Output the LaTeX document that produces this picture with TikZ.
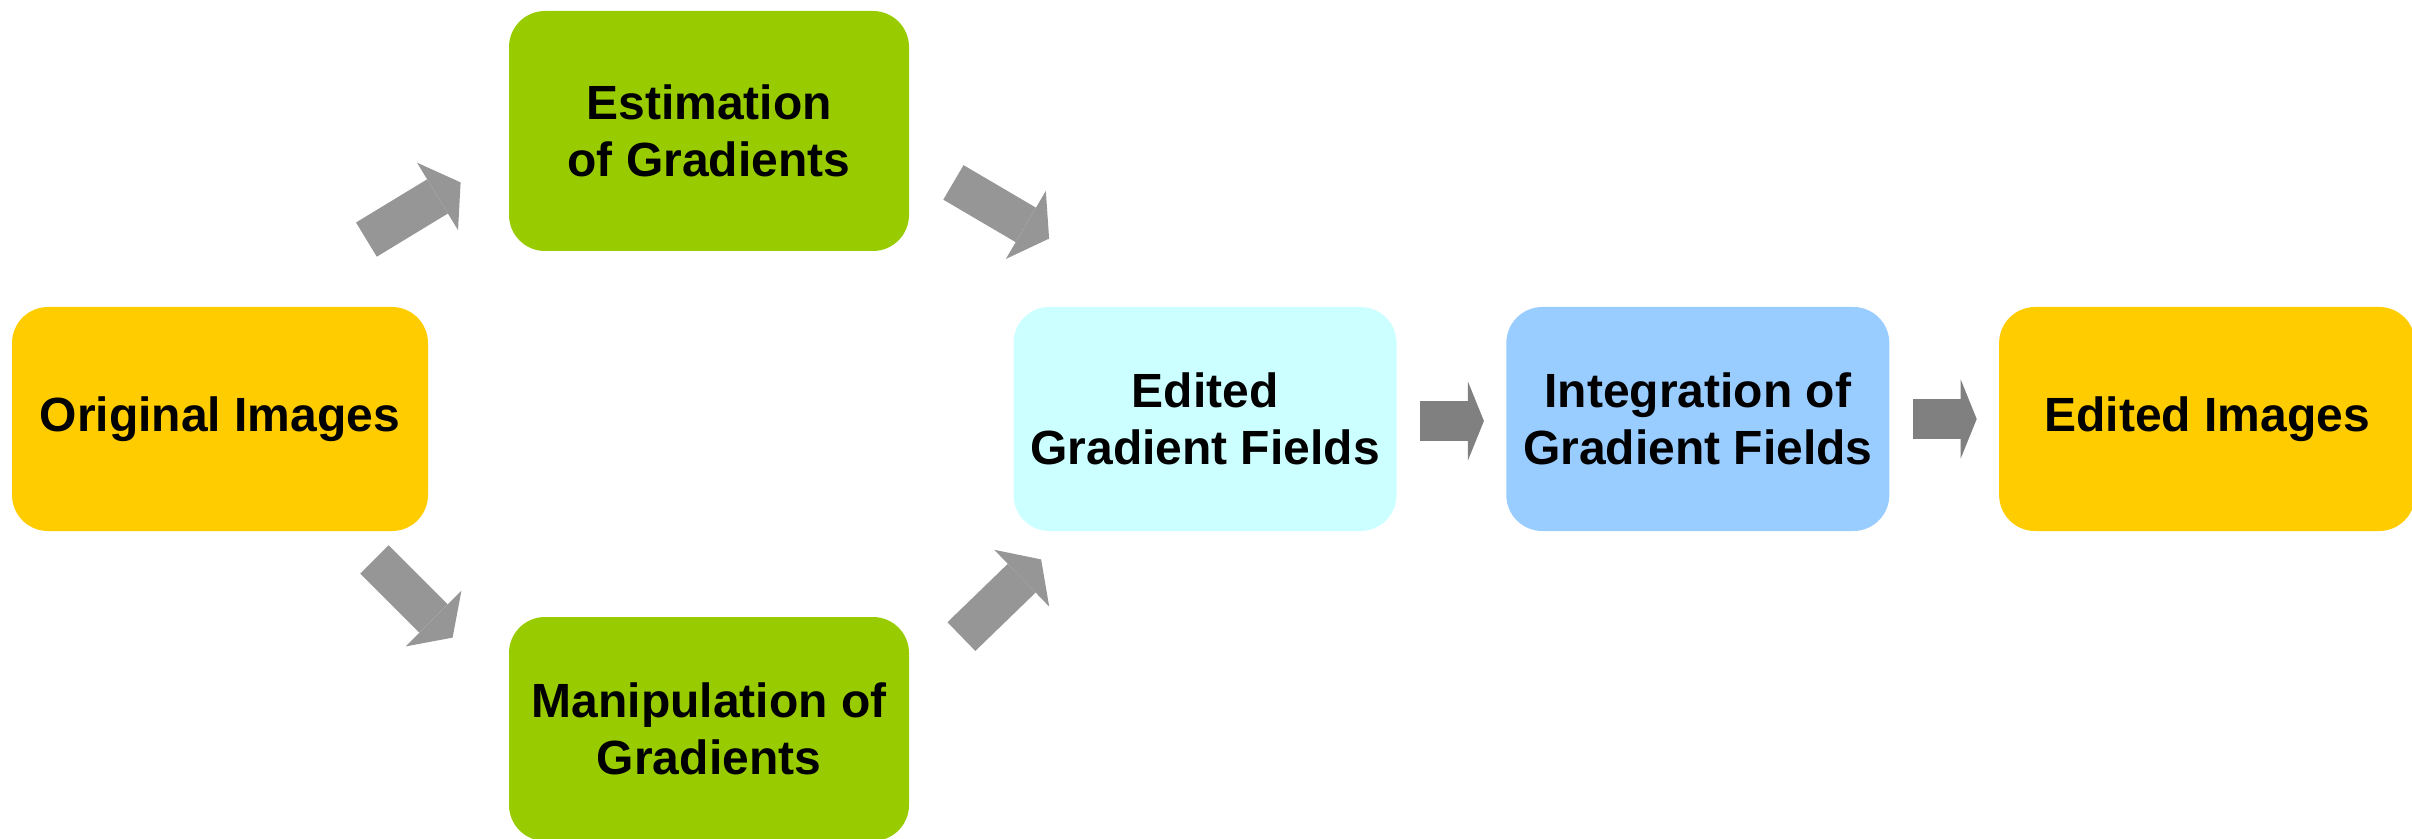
\documentclass[tikz,border=0pt]{standalone}
\usepackage{fontspec}
\setmainfont{Liberation Sans}
\usetikzlibrary{positioning,arrows.meta}
\definecolor{cOrig}{RGB}{255,204,0}
\definecolor{cStep}{RGB}{153,204,0}
\definecolor{cField}{RGB}{204,255,255}
\definecolor{cInt}{RGB}{153,204,255}
\definecolor{cArrD}{RGB}{150,150,150}
\definecolor{cArrH}{RGB}{128,128,128}
\tikzset{
  box/.style={
    rectangle, rounded corners=18pt, draw=none, inner sep=0pt,
    align=center, text=black,
    font=\bfseries\fontsize{24}{28.5}\selectfont,
    minimum width=208pt, minimum height=112pt,
  },
  diag/.style={-{Triangle[width=39.5pt,length=13.5pt,line width=0pt]},
    line width=20pt, draw=cArrD},
  flat/.style={-{Triangle[width=39.5pt,length=8pt,line width=0pt]},
    line width=20pt, draw=cArrH},
}

\begin{document}
\begin{tikzpicture}[x=0.5pt, y=-0.5pt, node distance=54.5pt]
\useasboundingbox (0,0) rectangle (2412,839);

\node[box, fill=cOrig] (orig) at (220,419) {Original Images};

\node[box, fill=cStep, minimum width=200pt, minimum height=120pt] (est)
  at (709,131) {Estimation\\of Gradients};

\node[box, fill=cStep, minimum width=200pt] (manip)
  at (709,729) {Manipulation of\\Gradients};

\node[box, fill=cField, minimum width=191.5pt] (egf)
  at (1205,419) {Edited\\Gradient Fields};

\node[box, fill=cInt, minimum width=191.5pt, right=of egf] (integ)
  {Integration of\\Gradient Fields};

\node[box, fill=cOrig, right=of integ] (edimg) {Edited Images};

% block arrows
\draw[diag] ([shift={(-62,-67)}]orig.north east) -- ([shift={(-48,-69)}]est.south west);
\draw[diag] ([shift={(44,-69)}]est.south east) -- ([shift={(36,-68)}]egf.north west);
\draw[diag] ([shift={(-54,28)}]orig.south east) -- ([shift={(-56,21)}]manip.north west);
\draw[diag] ([shift={(52,20)}]manip.north east) -- ([shift={(28,28)}]egf.south west);
\draw[flat] ([shift={(23,2)}]egf.east) -- ([shift={(-22,2)}]integ.west);
\draw[flat] ([shift={(23,0)}]integ.east) -- ([shift={(-22,0)}]edimg.west);

\end{tikzpicture}
\end{document}
